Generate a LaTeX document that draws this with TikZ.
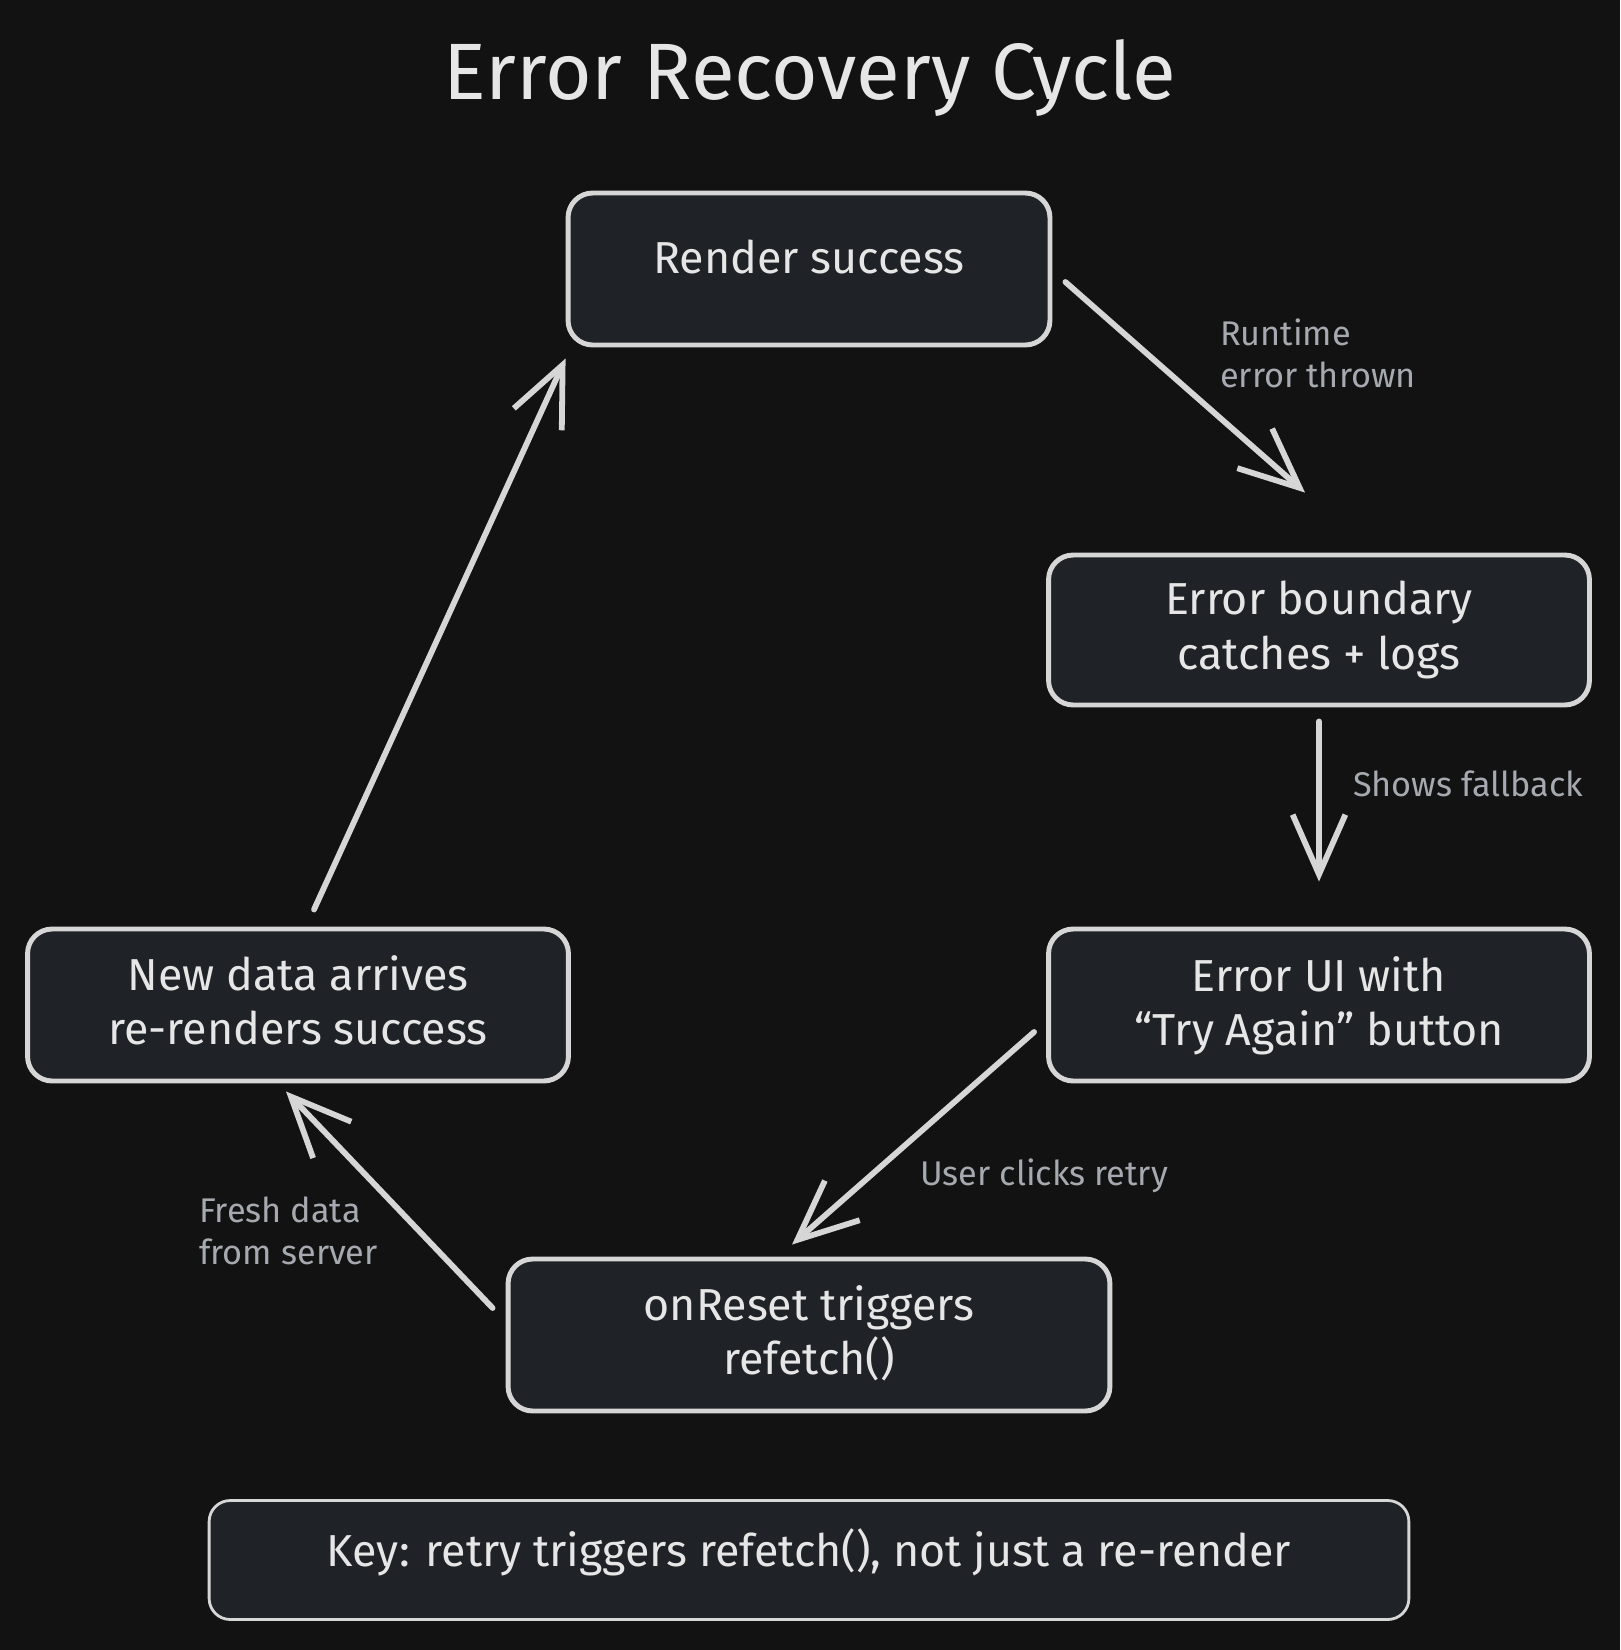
\documentclass[tikz,border=0pt]{standalone}
\usepackage{fontspec}
\setmainfont{Fira Sans}
\usetikzlibrary{arrows.meta, positioning, calc}
\definecolor{bgdark}{HTML}{121212}
\definecolor{boxfill}{HTML}{1F2226}
\definecolor{strokegray}{HTML}{D6D6D6}
\definecolor{labelgray}{HTML}{A6AAB0}
\definecolor{textwhite}{HTML}{E6E6E6}

\begin{document}
\begin{tikzpicture}[x=0.02cm, y=-0.02cm,
  statebox/.style={draw=strokegray, fill=boxfill, line width=2.8pt, rounded corners=14pt, align=center, text=textwhite, font=\fontsize{25.5}{31}\selectfont, inner sep=0pt, minimum height=3.04cm},
  flow/.style={draw=strokegray, line width=3.3pt, line cap=round, -{Straight Barb[length=34pt, width=30pt]}},
  edgelabel/.style={anchor=west, align=left, text=labelgray, font=\fontsize{19.5}{24}\selectfont}]

  % canvas
  \fill[bgdark] (0,0) rectangle (1620,1650);
  \useasboundingbox (0,0) rectangle (1620,1650);

  \node[text=textwhite, font=\fontsize{45.5}{52}\selectfont] (title) at (810,78) {Error Recovery Cycle};

  % states of the cycle
  \node[statebox, minimum width=9.64cm, text depth=0.5cm] (render) at (809,269) {Render success};
  \node[statebox, minimum width=10.82cm, minimum height=3cm] (errb) at (1319,630) {Error boundary\\catches + logs};
  \node[statebox, minimum width=10.82cm, text depth=0.15cm] (errui) at (1319,1005) {Error UI with\\``Try Again'' button};
  \node[statebox, minimum width=12.04cm, text depth=0.2cm] (reset) at (809,1335) {onReset triggers\\refetch()};
  \node[statebox, minimum width=10.82cm, text depth=0.2cm] (newdata) at (298,1005) {New data arrives\\re-renders success};

  % transitions
  \draw[flow] ([shift={(13,13)}]render.east) -- ([shift={(-14,-60)}]errb.north);
  \draw[flow] ([shift={(0,14)}]errb.south) -- ([shift={(0,-45)}]errui.north);
  \draw[flow] ([shift={(-12,27)}]errui.west) -- ([shift={(-17,-12)}]reset.north);
  \draw[flow] ([shift={(-13,-27)}]reset.west) -- ([shift={(-12,8)}]newdata.south);
  \draw[flow] ([shift={(16,-17)}]newdata.north) -- ([shift={(0,11)}]render.south west);

  \node[edgelabel] (lblerror) at (1214,353) {Runtime\\error thrown};
  \node[edgelabel] (lblfallback) at (1347,784) {Shows fallback};
  \node[edgelabel] (lblretry) at (914,1176) {User clicks retry};
  \node[edgelabel] (lblfresh) at (193,1231) {Fresh data\\from server};

  % footnote
  \node[draw=strokegray, fill=boxfill, line width=1.6pt, rounded corners=12pt, minimum width=24cm, minimum height=2.38cm, text depth=0.5cm, text=textwhite, font=\fontsize{25.5}{30}\selectfont] (key) at (809,1560) {Key: retry triggers refetch(), not just a re-render};
\end{tikzpicture}
\end{document}
